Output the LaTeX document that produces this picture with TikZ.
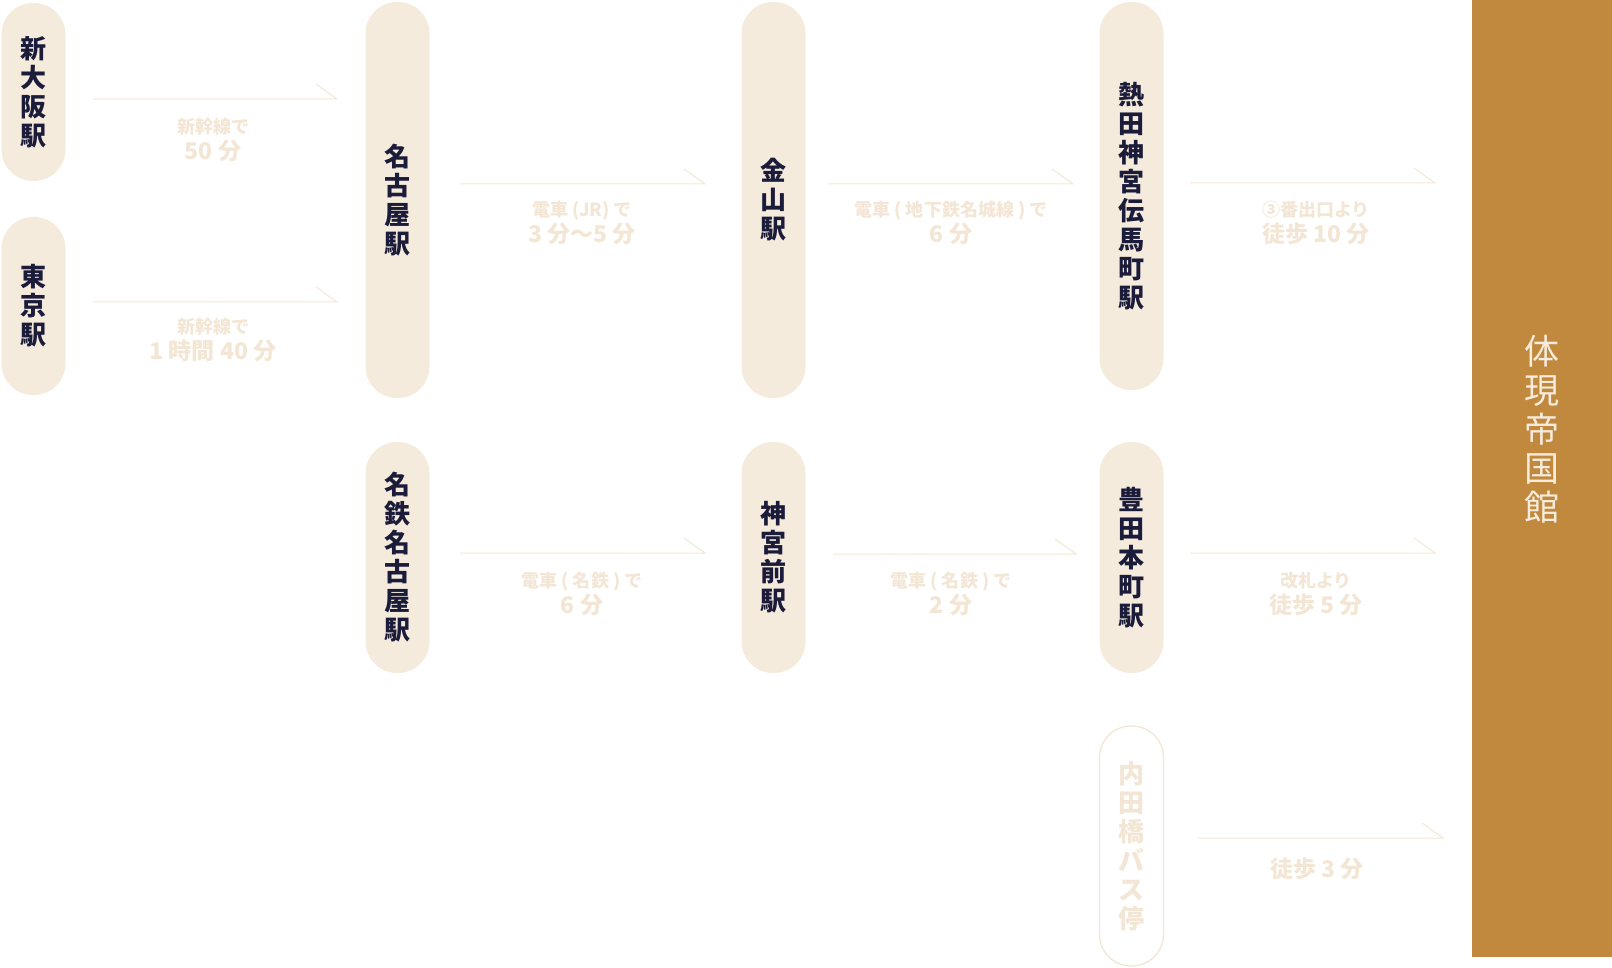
\documentclass[tikz,border=0pt]{standalone}
\usepackage{fontspec}
\setmainfont{Noto Sans CJK JP}
\definecolor{pillc}{HTML}{F5EBDD}
\definecolor{navy}{HTML}{1B1B3A}
\definecolor{beige}{HTML}{F3E6D5}
\definecolor{brownc}{HTML}{C1893D}
\definecolor{boxtext}{HTML}{F6EBDC}
\begin{document}
\begin{tikzpicture}[x=1pt,y=-1pt]
\tikzset{
  pill/.style={fill=pillc, rounded corners=31.5pt, minimum width=64pt, inner sep=0pt, align=center, text=navy, font=\fontsize{26}{29}\selectfont\bfseries},
  busstop/.style={pill, fill=white, draw=beige, line width=1.3pt, text=beige},
  route/.style={draw=beige, line width=1pt},
  lbl/.style={text=beige, align=center, inner sep=0pt, font=\fontsize{23}{26}\selectfont\bfseries},
}
\newcommand{\sm}[1]{{\fontsize{18}{21}\selectfont #1}}
\useasboundingbox (0,0) rectangle (1612,968);
% stations
\node[pill, minimum height=178pt] (osaka) at (33.5,92) {新\\大\\阪\\駅};
\node[pill, minimum height=178pt] (tokyo) at (33.5,306) {東\\京\\駅};
\node[pill, minimum height=396pt] (nagoya) at (397.5,200) {名\\古\\屋\\駅};
\node[pill, minimum height=231pt] (meitetsu) at (397.5,557.5) {名\\鉄\\名\\古\\屋\\駅};
\node[pill, minimum height=396pt] (kanayama) at (773.5,200) {金\\山\\駅};
\node[pill, minimum height=231pt] (jingumae) at (773.5,557.5) {神\\宮\\前\\駅};
\node[pill, minimum height=388pt] (atsuta) at (1131.5,196) {熱\\田\\神\\宮\\伝\\馬\\町\\駅};
\node[pill, minimum height=231pt] (toyoda) at (1131.5,557.5) {豊\\田\\本\\町\\駅};
\node[busstop, minimum height=240pt] (bus) at (1131.5,846) {内\\田\\橋\\バ\\ス\\停};
% museum
\node[fill=brownc, minimum width=140pt, minimum height=957pt, inner sep=0pt, anchor=north west] (museum) at (1472,0) {};
\node[text=boxtext, align=center, inner sep=0pt, font=\fontsize{35}{39}\selectfont] (museumlbl) at (1542,429) {体\\現\\帝\\国\\館};
% connector coordinates
\coordinate (a1s) at (93,99);   \coordinate (a1e) at (337,99);
\coordinate (a2s) at (93,302);  \coordinate (a2e) at (337,302);
\coordinate (a3s) at (460,184); \coordinate (a3e) at (705,184);
\coordinate (a4s) at (828,184); \coordinate (a4e) at (1073,184);
\coordinate (a5s) at (1190,183);\coordinate (a5e) at (1435,183);
\coordinate (a6s) at (460,553); \coordinate (a6e) at (705,553);
\coordinate (a7s) at (833,554); \coordinate (a7e) at (1076,554);
\coordinate (a8s) at (1190,553);\coordinate (a8e) at (1435,553);
\coordinate (a9s) at (1198,838);\coordinate (a9e) at (1443,838);
\foreach \i in {1,...,9} {
  \draw[route] (a\i s) -- (a\i e) -- ++(-21,-15);
}
% labels
\node[lbl] (l1) at (213,140) {\sm{新幹線で}\\50 分};
\node[lbl] (l2) at (213,340) {\sm{新幹線で}\\1 時間 40 分};
\node[lbl] (l3) at (582,223) {\sm{電車 (JR) で}\\3 分〜5 分};
\node[lbl] (l4) at (951,223) {\sm{電車 ( 地下鉄名城線 ) で}\\6 分};
\node[lbl] (l5) at (1316,223) {\sm{③番出口より}\\徒歩 10 分};
\node[lbl] (l6) at (582,594) {\sm{電車 ( 名鉄 ) で}\\6 分};
\node[lbl] (l7) at (951,594) {\sm{電車 ( 名鉄 ) で}\\2 分};
\node[lbl] (l8) at (1316,594) {\sm{改札より}\\徒歩 5 分};
\node[lbl] (l9) at (1317,869) {徒歩 3 分};
\end{tikzpicture}
\end{document}
